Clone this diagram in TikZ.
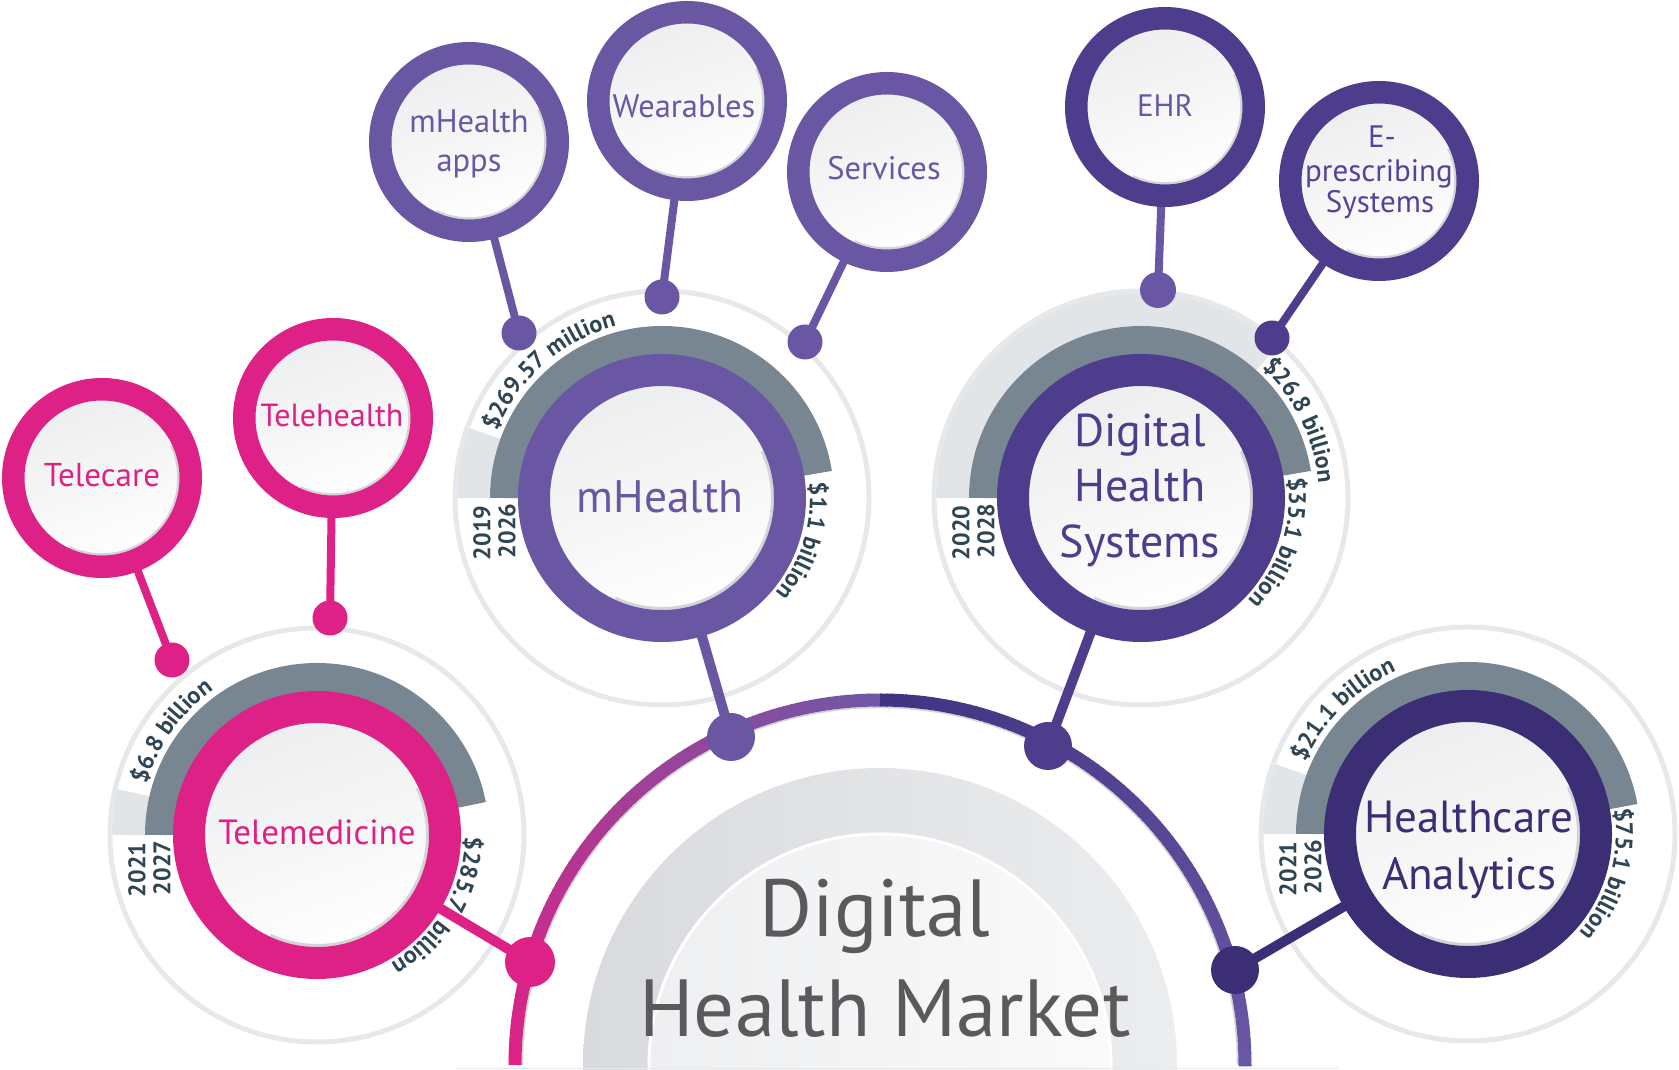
\documentclass[tikz,border=0pt]{standalone}
\usepackage{fontspec}
\setmainfont{PT Sans}
\usetikzlibrary{decorations.text}
\definecolor{pinkc}{HTML}{DE2186}
\definecolor{mhc}{HTML}{6A57A4}
\definecolor{dhc}{HTML}{4E3C8C}
\definecolor{hac}{HTML}{3C2E75}
\definecolor{epc}{HTML}{55439B}
\definecolor{slatec}{HTML}{778691}
\definecolor{lightband}{HTML}{E2E5E8}
\definecolor{ringgrey}{HTML}{E7E8EA}
\definecolor{labelc}{HTML}{2F4553}
\definecolor{maintext}{HTML}{5A5A5D}
\definecolor{arctop}{HTML}{413381}
\definecolor{arcleft}{HTML}{6F58A6}
\definecolor{arcright}{HTML}{6A57A5}
\definecolor{disktop}{HTML}{ECEDEE}
\definecolor{diskshadow}{HTML}{D3D4D7}
\definecolor{domeleft}{HTML}{D9DADD}
\definecolor{domeright}{HTML}{ECEDEF}
\definecolor{innerleft}{HTML}{EEEFF0}
\definecolor{innerright}{HTML}{FAFAFB}
\pgfdeclarelayer{bg}
\pgfdeclarelayer{conn}
\pgfsetlayers{bg,conn,main}
\newcommand{\lblfont}{\fontsize{24}{24}\selectfont\bfseries}
\newcommand{\arclabel}[5]{\path[decorate, decoration={text along path, text align=center, text color=labelc, text={|\lblfont|#5}}] ([shift={(#3:#2)}]#1) arc (#3:#4:#2);}
\newcommand{\ringbands}[3]{%
  \draw[lightband, line width=35pt] ([shift={(180:189.5)}]#1) arc (180:#2:189.5);
  \draw[ringgrey, line width=5pt] (#1) circle (207);
  \draw[slatec, line width=30pt] ([shift={(180:157)}]#1) arc (180:#3:157);}
\tikzset{
  bigring/.style={circle, inner sep=0pt, minimum size=256pt, line width=32pt, draw=#1,
    top color=disktop, bottom color=white, shading angle=20,
    path picture={\draw[diskshadow, line width=3pt] (path picture bounding box.center) ++(-115:110.5) arc (-115:25:110.5);}},
  smallring/.style={circle, inner sep=0pt, minimum size=177.5pt, line width=22.5pt, draw=#1,
    top color=disktop, bottom color=white, shading angle=20,
    path picture={\draw[diskshadow, line width=2.5pt] (path picture bounding box.center) ++(-115:76.5) arc (-115:25:76.5);}},
  dot/.style={circle, inner sep=0pt, fill=#1},
  txt/.style={anchor=base, inner sep=0pt, text=#1},
  yearlbl/.style={rotate=90, inner sep=0pt, text=labelc, font=\lblfont},
  conline/.style={line width=#1},
}
\begin{document}
\begin{tikzpicture}[x=1pt, y=1pt]
\useasboundingbox (0,0) rectangle (1679,1070);
\clip (0,0) rectangle (1679,1070);
\coordinate (cMain) at (880,5);
\coordinate (cTM) at (317,235);
\coordinate (cMH) at (662,572);
\coordinate (cDH) at (1141,572);
\coordinate (cHA) at (1468,236);

% ---------- background layer ----------
\begin{pgfonlayer}{bg}
\path[left color=domeleft, right color=domeright] (cMain) circle (297);
\path[left color=innerleft, right color=innerright, draw=white, line width=3pt] (cMain) circle (231);
\draw[ringgrey, line width=1pt] (457,1.5) -- (1338,1.5);
\ringbands{cTM}{167}{11}
\ringbands{cMH}{160}{9}
\ringbands{cDH}{48}{9}
\ringbands{cHA}{160}{10}
\draw[diskshadow, line width=1.5pt] ([shift={(180:357.5)}]cMain) arc (180:0:357.5);
\foreach \i in {0,...,89}{
  \pgfmathtruncatemacro{\p}{100-\i*100/89}
  \draw[line width=13pt, color=pinkc!\p!arcleft] ([shift={(180-\i:365)}]cMain) arc (180-\i:178.8-\i:365);
}
\foreach \i in {0,...,89}{
  \pgfmathtruncatemacro{\p}{\i*100/89}
  \draw[line width=13pt, color=arcright!\p!arctop] ([shift={(90-\i:365)}]cMain) arc (90-\i:88.8-\i:365);
}
\end{pgfonlayer}

% ---------- big rings ----------
\node[bigring=pinkc] (TM) at (cTM) {};
\node[bigring=mhc] (MH) at (cMH) {};
\node[bigring=dhc] (DH) at (cDH) {};
\node[bigring=hac] (HA) at (cHA) {};

% ---------- small rings ----------
\node[smallring=pinkc] (TC) at (102,592) {};
\node[smallring=pinkc] (TH) at (333,652) {};
\node[smallring=mhc] (MA) at (469,928) {};
\node[smallring=mhc] (WE) at (687,969) {};
\node[smallring=mhc] (SE) at (887,898) {};
\node[smallring=dhc] (EH) at (1165,963) {};
\node[smallring=dhc] (EP) at (1379,889) {};

% ---------- dots ----------
\node[dot=pinkc, minimum size=35pt] (dTC) at (172,410) {};
\node[dot=pinkc, minimum size=35pt] (dTH) at (330,452) {};
\node[dot=mhc, minimum size=35pt] (dMA) at (519,737) {};
\node[dot=mhc, minimum size=35pt] (dWE) at (662,773) {};
\node[dot=mhc, minimum size=35pt] (dSE) at (805,728) {};
\node[dot=mhc, minimum size=36pt] (dEH) at (1158,780) {};
\node[dot=dhc, minimum size=35pt] (dEP) at (1272,732) {};
\node[dot=pinkc, minimum size=50pt] (dTM) at (530,108) {};
\node[dot=mhc, minimum size=48pt] (dMH) at (731,333) {};
\node[dot=dhc, minimum size=48pt] (dDH) at (1048,324) {};
\node[dot=hac, minimum size=48pt] (dHA) at (1235,100) {};

% ---------- connectors ----------
\begin{pgfonlayer}{conn}
\draw[pinkc, conline=8pt] (TC.center) -- (dTC.center);
\draw[pinkc, conline=8pt] (TH.center) -- (dTH.center);
\draw[mhc, conline=8pt] (MA.center) -- (dMA.center);
\draw[mhc, conline=8pt] (WE.center) -- (dWE.center);
\draw[mhc, conline=8pt] (SE.center) -- (dSE.center);
\draw[mhc, conline=8pt] (EH.center) -- (dEH.center);
\draw[dhc, conline=8pt] (EP.center) -- (dEP.center);
\draw[pinkc, conline=10pt] (TM.center) -- (dTM.center);
\draw[mhc, conline=10pt] (MH.center) -- (dMH.center);
\draw[dhc, conline=10pt] (DH.center) -- (dDH.center);
\draw[hac, conline=10pt] (HA.center) -- (dHA.center);
\end{pgfonlayer}

% ---------- texts ----------
\node[txt=pinkc, font=\fontsize{35}{35}\selectfont] (tTM) at (317,225) {Telemedicine};
\node[txt=mhc, font=\fontsize{45.5}{45.5}\selectfont] (tMH) at (660,557) {mHealth};
\node[txt=dhc, font=\fontsize{46}{46}\selectfont] (tDH1) at (1140,623) {Digital};
\node[txt=dhc, font=\fontsize{46}{46}\selectfont] (tDH2) at (1140,568) {Health};
\node[txt=dhc, font=\fontsize{46}{46}\selectfont] (tDH3) at (1140,512) {Systems};
\node[txt=hac, font=\fontsize{45}{45}\selectfont] (tHA1) at (1469,237) {Healthcare};
\node[txt=hac, font=\fontsize{45}{45}\selectfont] (tHA2) at (1469,180) {Analytics};
\node[txt=pinkc, font=\fontsize{33}{33}\selectfont] (tTC) at (102,583) {Telecare};
\node[txt=pinkc, font=\fontsize{32}{32}\selectfont] (tTH) at (332,643) {Telehealth};
\node[txt=mhc, font=\fontsize{32.5}{32.5}\selectfont] (tMA1) at (469,937) {mHealth};
\node[txt=mhc, font=\fontsize{32.5}{32.5}\selectfont] (tMA2) at (469,898) {apps};
\node[txt=mhc, font=\fontsize{32.5}{32.5}\selectfont] (tWE) at (684,952) {Wearables};
\node[txt=mhc, font=\fontsize{32.5}{32.5}\selectfont] (tSE) at (884,890) {Services};
\node[txt=mhc, font=\fontsize{31}{31}\selectfont] (tEH) at (1165,953) {EHR};
\node[txt=epc, font=\fontsize{31}{31}\selectfont] (tEP1) at (1382,922) {E-};
\node[txt=epc, font=\fontsize{31}{31}\selectfont] (tEP2) at (1379,888) {prescribing};
\node[txt=epc, font=\fontsize{31}{31}\selectfont] (tEP3) at (1380,857) {Systems};
\node[txt=maintext, font=\fontsize{81}{81}\selectfont] (tMain1) at (875,133) {Digital};
\node[txt=maintext, font=\fontsize{81}{81}\selectfont] (tMain2) at (885,33) {Health Market};

% ---------- years ----------
\node[yearlbl] (yTM1) at ([shift={(-180,-35)}]cTM) {2021};
\node[yearlbl] (yTM2) at ([shift={(-155,-33)}]cTM) {2027};
\node[yearlbl] (yMH1) at ([shift={(-180,-35)}]cMH) {2019};
\node[yearlbl] (yMH2) at ([shift={(-155,-33)}]cMH) {2026};
\node[yearlbl] (yDH1) at ([shift={(-180,-35)}]cDH) {2020};
\node[yearlbl] (yDH2) at ([shift={(-155,-33)}]cDH) {2028};
\node[yearlbl] (yHA1) at ([shift={(-180,-35)}]cHA) {2021};
\node[yearlbl] (yHA2) at ([shift={(-155,-33)}]cHA) {2026};

% ---------- value labels ----------
\arclabel{cTM}{178}{172}{117}{{\$}6.8 billion}
\arclabel{cTM}{148}{5}{-35}{{\$}285.7}
\arclabel{cTM}{148}{-30}{-65}{billion}
\arclabel{cMH}{178}{165}{98}{{\$}269.57 million}
\arclabel{cMH}{148}{13}{-47}{{\$}1.1 billion}
\arclabel{cDH}{178}{56}{-4}{{\$}26.8 billion}
\arclabel{cDH}{148}{12}{-48}{{\$}35.1 billion}
\arclabel{cHA}{178}{165}{105}{{\$}21.1 billion}
\arclabel{cHA}{148}{14}{-46}{{\$}75.1 billion}
\end{tikzpicture}
\end{document}
